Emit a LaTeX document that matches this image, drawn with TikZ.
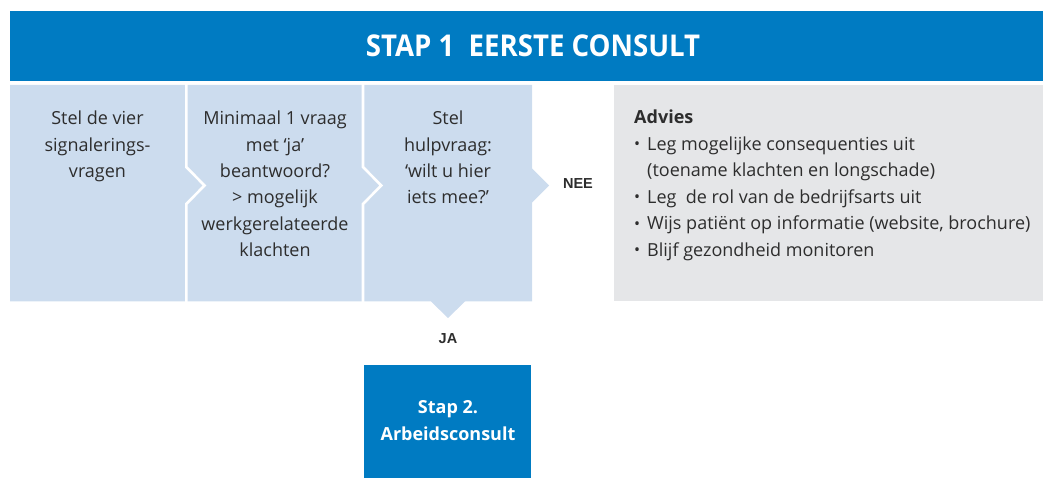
\documentclass[tikz,border=0pt]{standalone}
\usepackage{fontspec}
\setmainfont{Open Sans}
\newfontfamily\labelfont{Liberation Sans}
\definecolor{hdrblue}{RGB}{0,123,194}
\definecolor{lightblue}{RGB}{204,220,238}
\definecolor{advgray}{RGB}{229,230,232}
\definecolor{txt}{RGB}{45,45,45}
\newcommand{\advbullet}{\makebox[13bp][l]{\raisebox{0.5bp}{\fontsize{16bp}{16bp}\selectfont•}}}
\tikzset{
  paneltext/.style={anchor=north, align=center, inner sep=0pt, text=txt,
    font=\fontsize{18bp}{26.3bp}\selectfont},
  gapline/.style={draw=white, line width=2.6bp, line join=miter},
  yesno/.style={inner sep=0pt, text=txt, font=\labelfont\bfseries\fontsize{14.5bp}{16bp}\selectfont},
}
\begin{document}
\begin{tikzpicture}[x=1bp,y=-1bp]
\useasboundingbox (0,0) rectangle (1043,478);
% header
\fill[hdrblue] (10,11) rectangle (1043,81);
\node[text=white, inner sep=0pt, font=\bfseries\fontsize{30bp}{32bp}\selectfont] (title) at (533,46)
  {\scalebox{0.92}[1]{STAP 1\ \ EERSTE CONSULT}};
% chevron panels
\fill[lightblue] (10,85) -- (532,85) -- (532,168.5) -- (549,185.5) -- (532,202.5) -- (532,301.5)
  -- (465,301.5) -- (448,318) -- (431,301.5) -- (10,301.5) -- cycle;
\draw[gapline] (186.3,84) -- (186.3,167) -- (204.5,185.5) -- (186.3,204) -- (186.3,303);
\draw[gapline] (363.0,84) -- (363.0,167) -- (381.2,185.5) -- (363.0,204) -- (363.0,303);
% advice panel
\fill[advgray] (614,85) rectangle (1043,301.5);
% texts
\node[paneltext] (p1) at (97.5,111) {Stel de vier\\signalerings-\\vragen};
\node[paneltext] (p2) at (275,111) {Minimaal 1 vraag\\met ‘ja’\\beantwoord?\\> mogelijk\\werkgerelateerde\\klachten};
\node[paneltext] (p3) at (448,111) {Stel\\hulpvraag:\\‘wilt u hier\\iets mee?’};
\node[yesno] (nee) at (578,184) {NEE};
\node[yesno] (ja) at (448,339) {JA};
\node[anchor=north west, align=left, inner sep=0pt, text=txt,
  font=\fontsize{18bp}{26.5bp}\selectfont] (adv) at (634,110)
  {\textbf{Advies}\\
   \advbullet Leg mogelijke consequenties uit\\
   \makebox[13bp][l]{}(toename klachten en longschade)\\
   \advbullet Leg~~de rol van de bedrijfsarts uit\\
   \advbullet Wijs patiënt op informatie (website, brochure)\\
   \advbullet Blijf gezondheid monitoren};
% step 2 box
\fill[hdrblue] (364,365) rectangle (531,478);
\node[text=white, align=center, inner sep=0pt,
  font=\bfseries\fontsize{18bp}{27bp}\selectfont] (stap2) at (448,421) {Stap 2.\\Arbeidsconsult};
\end{tikzpicture}
\end{document}
